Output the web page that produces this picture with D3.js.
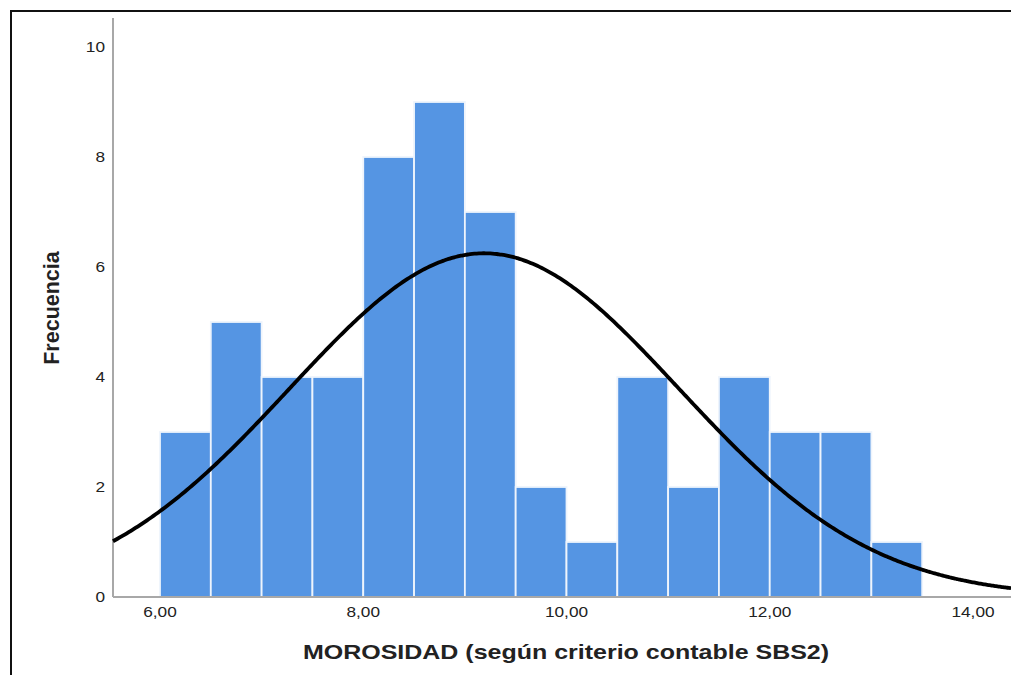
<!DOCTYPE html>
<html>
<head>
<meta charset="utf-8">
<script src="https://cdn.jsdelivr.net/npm/d3@7"></script>
<style>
  html, body { margin: 0; padding: 0; background: #fff; }
  svg { display: block; }
  text { font-family: "Liberation Sans", Arial, sans-serif; fill: #222; }
</style>
</head>
<body>
<svg id="chart" width="1011" height="675"></svg>
<script>
// Histogram bins (lower edge) and their counts
const binStarts = [6.0, 6.5, 7.0, 7.5, 8.0, 8.5, 9.0, 9.5, 10.0, 10.5, 11.0, 11.5, 12.0, 12.5, 13.0];
const binWidth = 0.5;
const counts = [3, 5, 4, 4, 8, 9, 7, 2, 1, 4, 2, 4, 3, 3, 1];

// Fitted normal distribution parameters
const mean = 9.19;
const stdDev = 1.915;

// Axis ticks and labels
const xTicks = [6, 8, 10, 12, 14];
const yTicks = [0, 2, 4, 6, 8, 10];
const xTitle = "MOROSIDAD (según criterio contable SBS2)";
const yTitle = "Frecuencia";

// Horizontal stretch applied to the text glyphs
const textStretch = 1.19;

const svg = d3.select("#chart");

const x = d3.scaleLinear().domain([6, 14]).range([160, 973]);
const y = d3.scaleLinear().domain([0, 10]).range([597, 47]);

const xMin = x.invert(113);
const xMax = x.invert(1011);

// Outer frame
svg.append("path")
  .attr("d", "M11,675 L11,11 L1011,11")
  .attr("fill", "none")
  .attr("stroke", "#111")
  .attr("stroke-width", 2);

// Bars
svg.append("g")
  .selectAll("rect")
  .data(counts)
  .join("rect")
  .attr("x", (d, i) => x(binStarts[i]))
  .attr("y", d => y(d))
  .attr("width", (d, i) => x(binStarts[i] + binWidth) - x(binStarts[i]))
  .attr("height", d => y(0) - y(d))
  .attr("fill", "#5595e3")
  .attr("stroke", "#eef4fc")
  .attr("stroke-width", 1.8);

// Axis lines
svg.append("line")
  .attr("x1", 113).attr("x2", 113)
  .attr("y1", 18).attr("y2", y(0))
  .attr("stroke", "#a8a8a8").attr("stroke-width", 2);
svg.append("line")
  .attr("x1", 113).attr("x2", 1011)
  .attr("y1", y(0)).attr("y2", y(0))
  .attr("stroke", "#a8a8a8").attr("stroke-width", 2);

// Tick labels
const fmt = v => d3.format(".2f")(v).replace(".", ",");
svg.append("g")
  .selectAll("text")
  .data(yTicks)
  .join("text")
  .attr("transform", d => `translate(105,${y(d)}) scale(${textStretch},1)`)
  .attr("dy", "0.35em")
  .attr("text-anchor", "end")
  .attr("font-size", 14.5)
  .text(d => d);

svg.append("g")
  .selectAll("text")
  .data(xTicks)
  .join("text")
  .attr("transform", d => `translate(${x(d)},612) scale(${textStretch},1)`)
  .attr("dy", "0.35em")
  .attr("text-anchor", "middle")
  .attr("font-size", 14.5)
  .text(d => fmt(d));

// Normal curve scaled to the histogram counts
const total = d3.sum(counts);
const density = v => total * binWidth / (stdDev * Math.sqrt(2 * Math.PI)) *
  Math.exp(-0.5 * Math.pow((v - mean) / stdDev, 2));
const curvePts = d3.range(0, 401).map(i => xMin + (xMax - xMin) * i / 400);
svg.append("path")
  .datum(curvePts)
  .attr("fill", "none")
  .attr("stroke", "#000")
  .attr("stroke-width", 3.8)
  .attr("d", d3.line().x(v => x(v)).y(v => y(density(v))).curve(d3.curveBasis));

// Axis titles
svg.append("text")
  .attr("transform", `translate(566,652) scale(${textStretch},1)`)
  .attr("dy", "0.35em")
  .attr("text-anchor", "middle")
  .attr("font-size", 21)
  .attr("font-weight", "bold")
  .attr("fill", "#111")
  .text(xTitle);

svg.append("text")
  .attr("transform", "translate(51,308) rotate(-90)")
  .attr("dy", "0.35em")
  .attr("text-anchor", "middle")
  .attr("font-size", 21.5)
  .attr("font-weight", "bold")
  .attr("fill", "#111")
  .text(yTitle);
</script>
</body>
</html>
